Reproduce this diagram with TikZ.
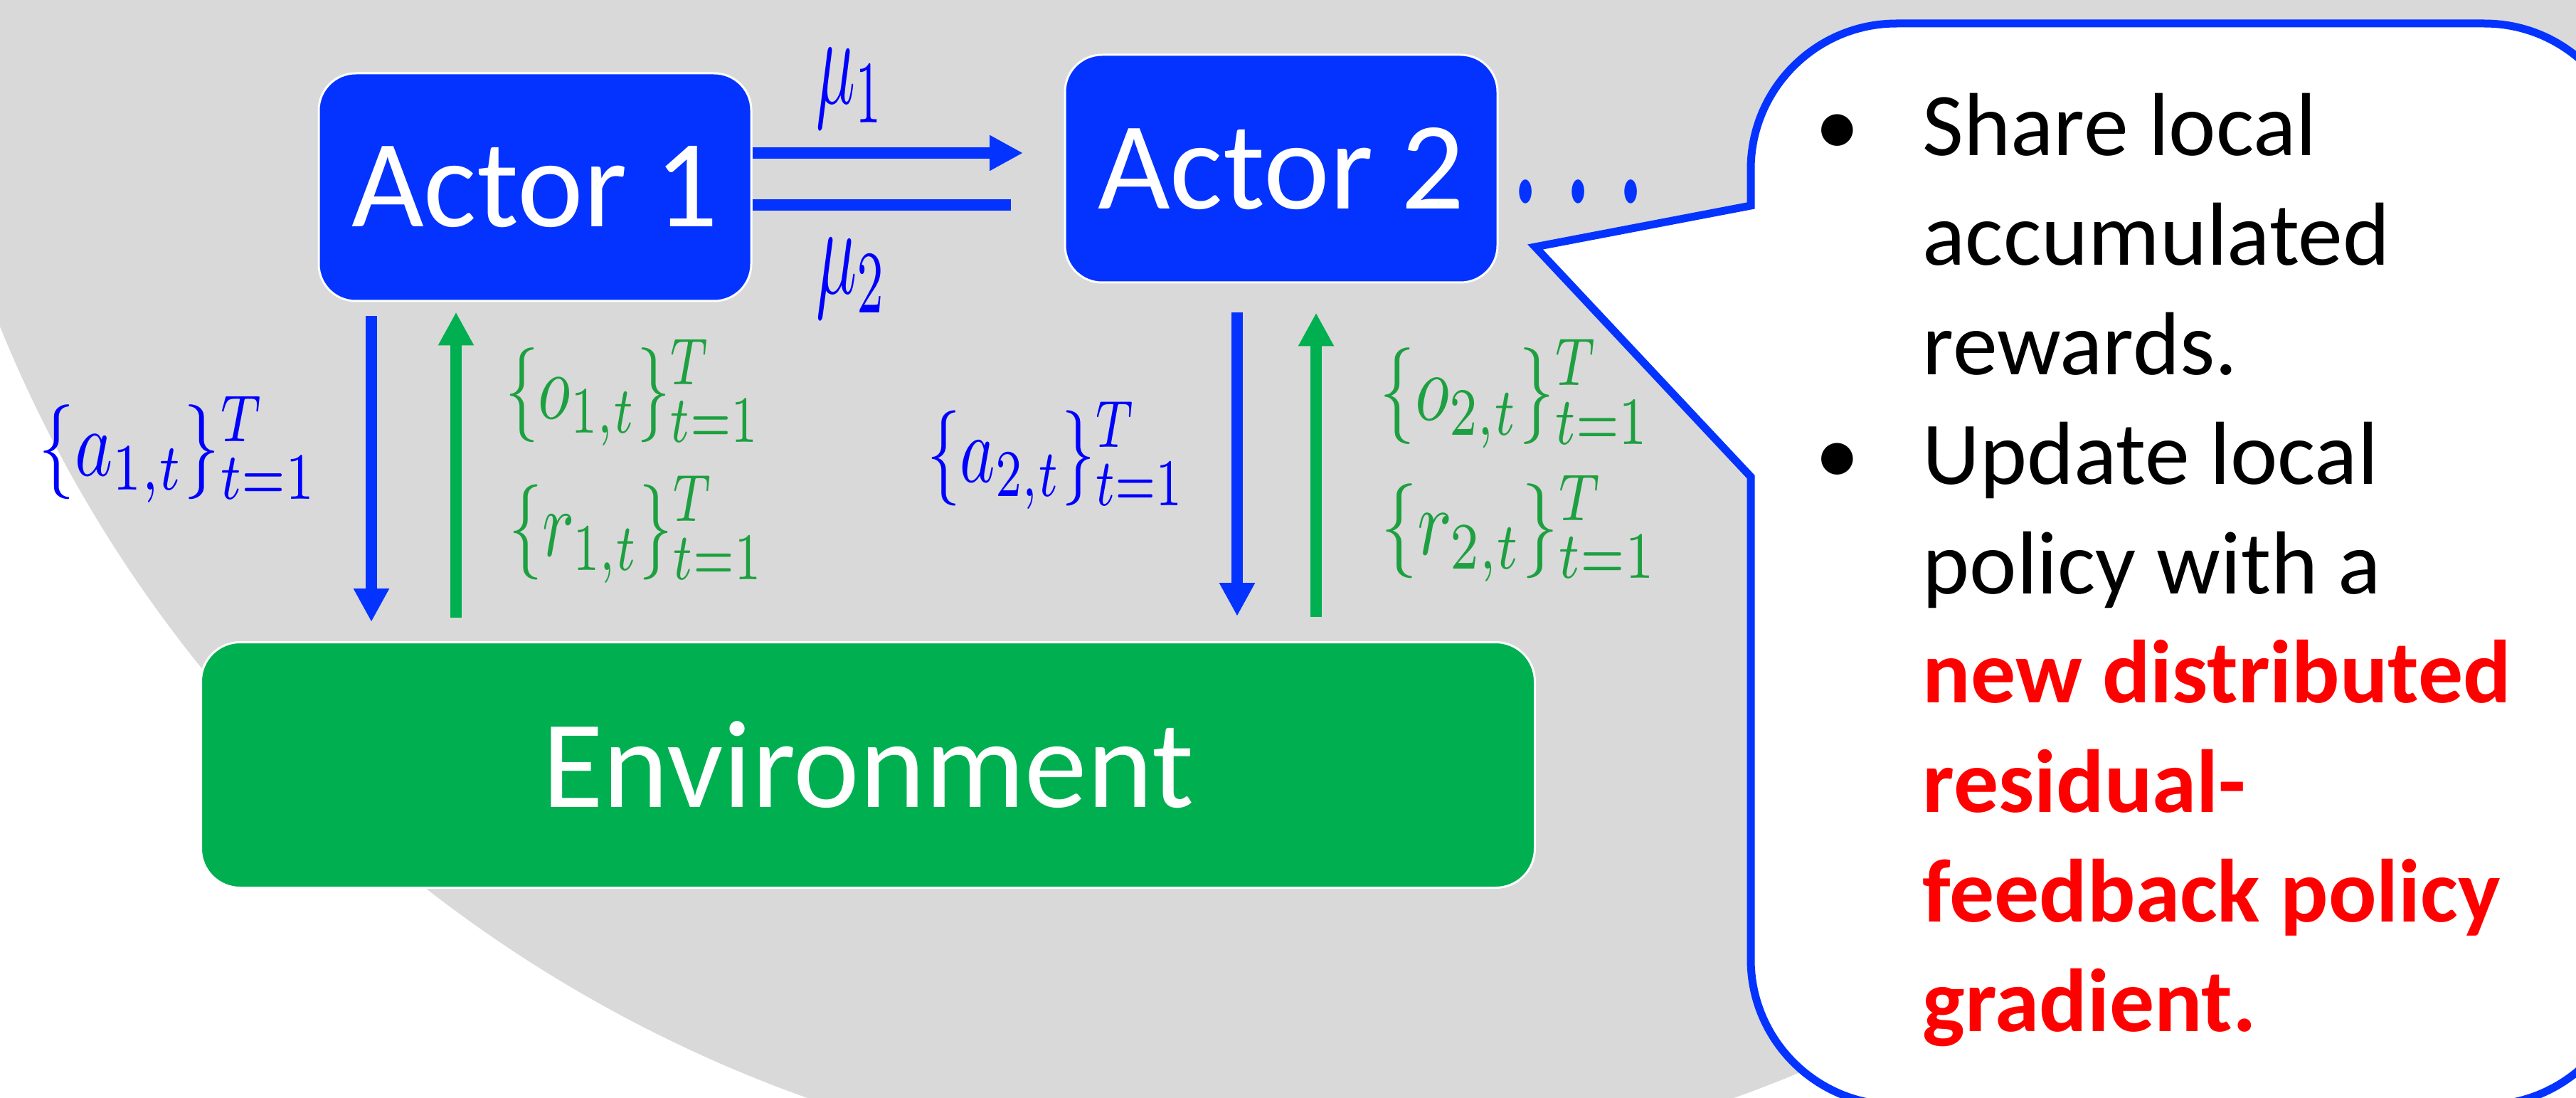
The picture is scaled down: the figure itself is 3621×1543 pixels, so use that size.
\documentclass[tikz,border=0pt]{standalone}
\usepackage{fix-cm}
\usepackage{fontspec}
\setmainfont{Carlito}
\usepackage{graphicx}
\usetikzlibrary{arrows.meta,calc}
\definecolor{actblue}{RGB}{4,51,255}
\definecolor{envgreen}{RGB}{0,176,80}
\definecolor{lblgreen}{RGB}{30,160,65}
\definecolor{bggray}{RGB}{217,217,217}
\newcommand\nodefont{\fontsize{50}{60}\selectfont}
\newcommand\notefont{\fontsize{35.8}{43.7}\selectfont}
\newcommand\hl[1]{{\color{red}\bfseries #1}}
\tikzset{actor/.style={draw=white,line width=0.3mm,rounded corners=5.2mm,fill=actblue,text=white,
    font=\nodefont,minimum width=60.8mm,minimum height=32mm,inner sep=0pt},
  envbox/.style={actor,fill=envgreen,rounded corners=5.5mm,minimum width=187.5mm,minimum height=34.5mm},
  flow/.style={actblue,line width=1.6mm,-{Triangle[length=4.7mm,width=4.7mm]}},
  gflow/.style={flow,envgreen},
  lbl/.style={inner sep=0pt,text=blue},
  glbl/.style={lbl,text=lblgreen},
  note/.style={inner sep=0pt,anchor=base west,font=\notefont}}

\begin{document}
\begin{tikzpicture}[x=0.1mm,y=-0.1mm]
\useasboundingbox (0,0) rectangle (3621,1543);
\clip (0,0) rectangle (3621,1543);
\fill[white] (0,0) rectangle (3621,1543);
\fill[bggray] (1786,-255) ellipse[x radius=192.5mm,y radius=191mm];

% actors and environment
\node[actor] (act1) at (752,263) {\raisebox{-0.6mm}{Actor 1}};
\node[actor] (act2) at (1801,237) {\raisebox{-0.6mm}{Actor 2}};
\node[envbox] (env) at (1220,1075) {Environment};
\node[inner sep=0pt,anchor=base west,text=actblue,font=\fontsize{45}{50}\selectfont] (dots) at (2121,349) {\scalebox{1.05}[2]{$\cdots$}};

% exchange between the actors
\draw[flow,shorten >=5.75mm] ($(act1.east)+(0,-48)$) coordinate (m1) -- (m1 -| act2.west);
\draw[flow,-,shorten >=7.45mm] ($(act1.east)+(0,25)$) coordinate (m2) -- (m2 -| act2.west);
\node[lbl] (mu1) at (1195,124) {\resizebox*{9.6mm}{11.2mm}{$\mu_1$}};
\node[lbl] (mu2) at (1197,391) {\resizebox*{10mm}{11.2mm}{$\mu_2$}};

% actions down, observations and rewards up
\draw[flow,shorten <=2mm,shorten >=2.7mm] ([xshift=-23mm]act1.south) -- ([xshift=-23mm]act1.south |- env.north);
\draw[gflow,shorten <=3.3mm,shorten >=1.4mm] ([xshift=-11.1mm]act1.south |- env.north) -- ([xshift=-11.1mm]act1.south);
\draw[flow,shorten <=4.1mm,shorten >=3.5mm] ([xshift=-6.2mm]act2.south) -- ([xshift=-6.2mm]act2.south |- env.north);
\draw[gflow,shorten <=3.4mm,shorten >=4.1mm] ([xshift=4.9mm]act2.south |- env.north) -- ([xshift=4.9mm]act2.south);

\node[lbl] (a1) at (251,632) {\resizebox*{39.2mm}{15mm}{$\{a_{1,t}\}_{t=1}^T$}};
\node[glbl] (o1) at (890,552) {\resizebox*{36mm}{15mm}{$\{o_{1,t}\}_{t=1}^T$}};
\node[glbl] (r1) at (895,744) {\resizebox*{35.9mm}{15.1mm}{$\{r_{1,t}\}_{t=1}^T$}};
\node[lbl] (a2) at (1485,640) {\resizebox*{36.4mm}{15.1mm}{$\{a_{2,t}\}_{t=1}^T$}};
\node[glbl] (o2) at (2130,553) {\resizebox*{38.1mm}{15.3mm}{$\{o_{2,t}\}_{t=1}^T$}};
\node[glbl] (r2) at (2136,743) {\resizebox*{38.9mm}{15mm}{$\{r_{2,t}\}_{t=1}^T$}};

% speech bubble
\draw[actblue,line width=1.1mm,fill=white] (2158,347) -- (2461,289) [rounded corners=20.5mm] -- (2461,33)
  -- (3697,33) -- (3697,1553) -- (2461,1553) [sharp corners] -- (2461,670) -- cycle;
\node[note,anchor=base] (b1) at (2583,219) {\textbullet};
\node[note,anchor=base] (b2) at (2583,680.25) {\textbullet};
\foreach \ln [count=\i from 0] in {Share local, accumulated, rewards., Update local, policy with a,
    \hl{new distributed}, \hl{residual-}, \hl{feedback policy}, \hl{gradient.}}
  \node[note] (ln\i) at (2702,219+153.75*\i) {\ln};
\end{tikzpicture}
\end{document}
